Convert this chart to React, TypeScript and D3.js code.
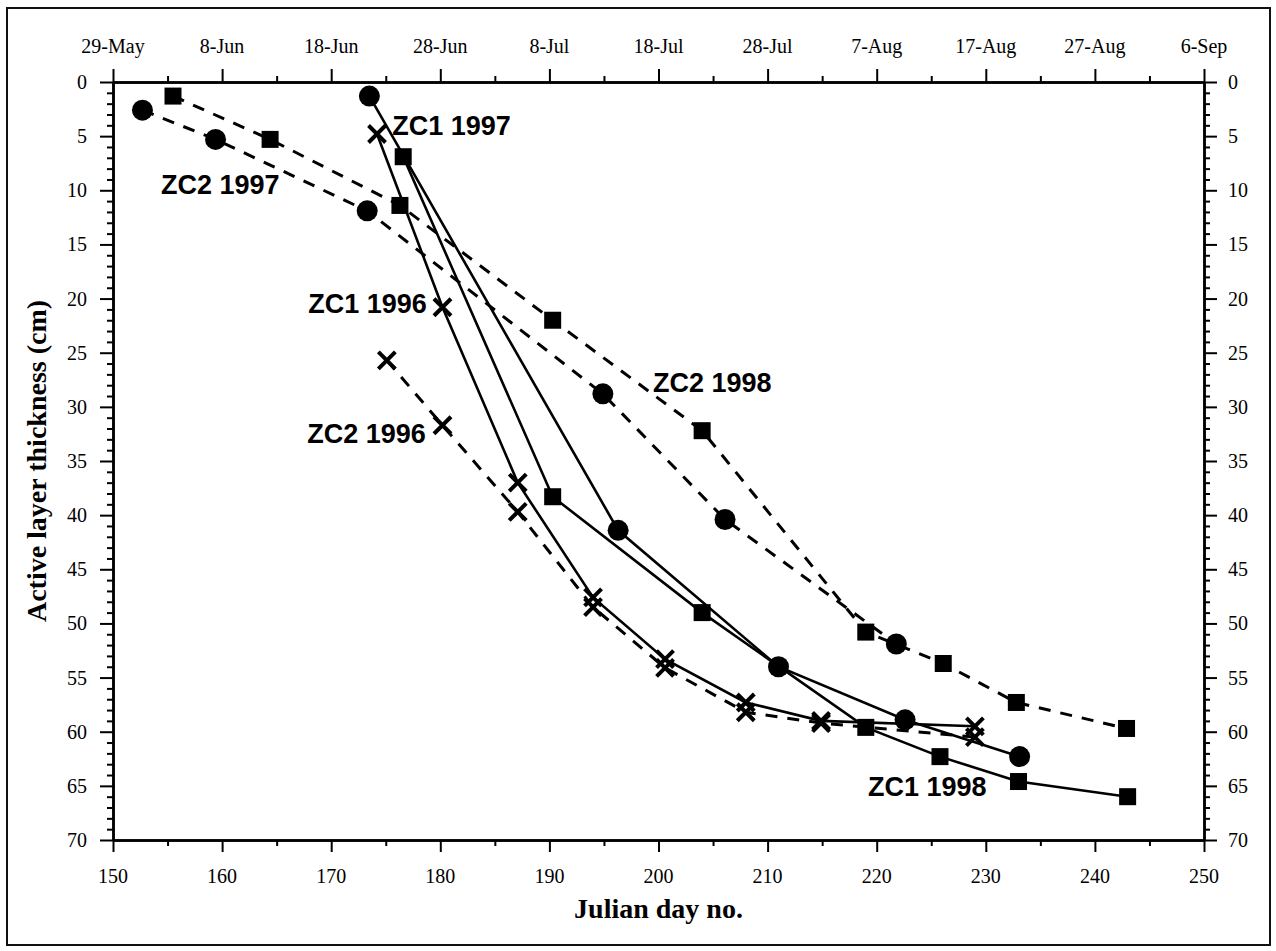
import React, { useEffect, useRef } from "react";
import * as d3 from "d3";

const W = 1276;
const H = 951;

// axis ticks
const xMajor = [150, 160, 170, 180, 190, 200, 210, 220, 230, 240, 250];
const xMinor = [155, 165, 175, 185, 195, 205, 215, 225, 235, 245];
const topLabels = ["29-May", "8-Jun", "18-Jun", "28-Jun", "8-Jul", "18-Jul", "28-Jul", "7-Aug", "17-Aug", "27-Aug", "6-Sep"];
const yMajor = [0, 5, 10, 15, 20, 25, 30, 35, 40, 45, 50, 55, 60, 65, 70];
const yMinor = d3.range(0, 71).filter((v) => v % 5 !== 0);

// series (Julian day, active layer thickness cm)
const zc1_1996_day = [174.2, 180.2, 187.1, 194.0, 200.6, 208.0, 214.9, 229.0];
const zc1_1996_val = [4.8, 20.8, 37.0, 47.6, 53.3, 57.3, 59.0, 59.5];

const zc2_1996_day = [175.1, 180.2, 187.1, 194.0, 200.6, 208.0, 214.9, 229.0];
const zc2_1996_val = [25.7, 31.7, 39.7, 48.5, 54.1, 58.2, 59.2, 60.5];

const zc1_1997_day = [173.5, 196.3, 211.0, 222.6, 233.1];
const zc1_1997_val = [1.3, 41.4, 54.0, 58.9, 62.3];

const zc2_1997_day = [152.7, 159.4, 173.3, 194.9, 206.1, 221.8];
const zc2_1997_val = [2.6, 5.3, 11.9, 28.8, 40.4, 51.9];

const zc1_1998_day = [176.6, 190.3, 204.0, 219.0, 225.8, 233.0, 243.0];
const zc1_1998_val = [6.9, 38.3, 49.0, 59.6, 62.3, 64.6, 66.0];

const zc2_1998_day = [155.5, 164.4, 176.3, 190.3, 204.0, 219.0, 226.1, 232.8, 242.9];
const zc2_1998_val = [1.3, 5.3, 11.4, 22.0, 32.2, 50.8, 53.7, 57.3, 59.7];

type Marker = "circle" | "square" | "x";
interface Series {
  name: string;
  days: number[];
  vals: number[];
  marker: Marker;
  dashed: boolean;
}

const series: Series[] = [
  { name: "ZC2 1997", days: zc2_1997_day, vals: zc2_1997_val, marker: "circle", dashed: true },
  { name: "ZC2 1998", days: zc2_1998_day, vals: zc2_1998_val, marker: "square", dashed: true },
  { name: "ZC2 1996", days: zc2_1996_day, vals: zc2_1996_val, marker: "x", dashed: true },
  { name: "ZC1 1996", days: zc1_1996_day, vals: zc1_1996_val, marker: "x", dashed: false },
  { name: "ZC1 1997", days: zc1_1997_day, vals: zc1_1997_val, marker: "circle", dashed: false },
  { name: "ZC1 1998", days: zc1_1998_day, vals: zc1_1998_val, marker: "square", dashed: false },
];

// series labels: text, anchor-start day, baseline value
const labelText = ["ZC1 1997", "ZC2 1997", "ZC1 1996", "ZC2 1996", "ZC2 1998", "ZC1 1998"];
const labelDay = [175.6, 154.4, 167.9, 167.8, 199.5, 219.2];
const labelVal = [4.9, 10.3, 21.3, 33.3, 28.6, 65.9];

export default function App() {
  const ref = useRef<SVGSVGElement>(null);

  useEffect(() => {
    const svg = d3.select(ref.current);
    svg.selectAll("*").remove();

    const x = d3.scaleLinear().domain([150, 250]).range([113, 1204]);
    const y = d3.scaleLinear().domain([0, 70]).range([82, 840]);
    const [x0, x1] = x.range();
    const [y0, y1] = y.range();

    // outer frame
    svg.append("rect")
      .attr("x", 7).attr("y", 8).attr("width", 1263).attr("height", 937)
      .attr("fill", "none").attr("stroke", "#111").attr("stroke-width", 2);

    const tickW = 2;
    const g = svg.append("g");

    const bottom = d3.axisBottom(x).tickValues(xMajor).tickSize(12).tickSizeOuter(0);
    const bottomMinor = d3.axisBottom(x).tickValues(xMinor).tickSize(6).tickSizeOuter(0);
    const top = d3.axisTop(x).tickValues(xMajor).tickSize(13).tickSizeOuter(0);
    const topMinor = d3.axisTop(x).tickValues(xMinor).tickSize(6).tickSizeOuter(0);
    const left = d3.axisLeft(y).tickValues(yMajor).tickSize(13).tickSizeOuter(0);
    const leftMinor = d3.axisLeft(y).tickValues(yMinor).tickSize(6).tickSizeOuter(0);
    const right = d3.axisRight(y).tickValues(yMajor).tickSize(13).tickSizeOuter(0);
    const rightMinor = d3.axisRight(y).tickValues(yMinor).tickSize(6).tickSizeOuter(0);

    const axes: [any, string][] = [
      [bottom, `translate(0,${y1})`], [bottomMinor, `translate(0,${y1})`],
      [top, `translate(0,${y0})`], [topMinor, `translate(0,${y0})`],
      [left, `translate(${x0},0)`], [leftMinor, `translate(${x0},0)`],
      [right, `translate(${x1},0)`], [rightMinor, `translate(${x1},0)`],
    ];
    axes.forEach(([ax, tr]) => {
      const a = g.append("g").attr("transform", tr).call(ax);
      a.selectAll("path.domain").attr("stroke", "#000").attr("stroke-width", 2.5);
      a.selectAll(".tick line").attr("stroke", "#000").attr("stroke-width", tickW);
      a.selectAll("text").remove();
    });

    const serif = "'Liberation Serif', 'Times New Roman', serif";
    const sans = "'Liberation Sans', Arial, sans-serif";

    // tick labels
    const tl = svg.append("g").attr("font-family", serif).attr("font-size", 20).attr("fill", "#000");
    xMajor.forEach((v, i) => {
      tl.append("text").attr("x", x(v)).attr("y", y1 + 36).attr("text-anchor", "middle")
        .attr("dominant-baseline", "central").text(String(v));
      tl.append("text").attr("x", x(v)).attr("y", y0 - 36).attr("text-anchor", "middle")
        .attr("dominant-baseline", "central").text(topLabels[i]);
    });
    yMajor.forEach((v) => {
      tl.append("text").attr("x", x0 - 26).attr("y", y(v)).attr("text-anchor", "end")
        .attr("dominant-baseline", "central").text(String(v));
      tl.append("text").attr("x", x1 + 24).attr("y", y(v)).attr("text-anchor", "start")
        .attr("dominant-baseline", "central").text(String(v));
    });

    // axis titles
    svg.append("text").attr("x", (x0 + x1) / 2).attr("y", 908).attr("text-anchor", "middle")
      .attr("dominant-baseline", "central")
      .attr("font-family", serif).attr("font-weight", "bold").attr("font-size", 28).text("Julian day no.");
    svg.append("text")
      .attr("transform", `translate(36,${(y0 + y1) / 2}) rotate(-90)`)
      .attr("text-anchor", "middle").attr("dominant-baseline", "central")
      .attr("font-family", serif).attr("font-weight", "bold").attr("font-size", 28)
      .text("Active layer thickness (cm)");

    // lines
    const line = d3.line<[number, number]>().x((d) => x(d[0])).y((d) => y(d[1]));
    const plot = svg.append("g");
    series.forEach((s) => {
      const pts: [number, number][] = s.days.map((d, i) => [d, s.vals[i]]);
      plot.append("path").attr("d", line(pts)!).attr("fill", "none").attr("stroke", "#000")
        .attr("stroke-width", s.dashed ? 3 : 2.6)
        .attr("stroke-dasharray", s.dashed ? "12,10" : null);
    });

    // markers
    series.forEach((s) => {
      s.days.forEach((d, i) => {
        const cx = x(d), cy = y(s.vals[i]);
        if (s.marker === "circle") {
          plot.append("circle").attr("cx", cx).attr("cy", cy).attr("r", 10.5).attr("fill", "#000");
        } else if (s.marker === "square") {
          plot.append("rect").attr("x", cx - 8.5).attr("y", cy - 8.5).attr("width", 17).attr("height", 17).attr("fill", "#000");
        } else {
          const r = 8.5;
          plot.append("path").attr("d", `M${cx - r},${cy - r}L${cx + r},${cy + r}M${cx - r},${cy + r}L${cx + r},${cy - r}`)
            .attr("stroke", "#000").attr("stroke-width", 4).attr("fill", "none");
        }
      });
    });

    // series labels
    const lg = svg.append("g").attr("font-family", sans).attr("font-weight", "bold").attr("font-size", 27).attr("fill", "#000");
    labelText.forEach((t, i) => {
      lg.append("text").attr("x", x(labelDay[i])).attr("y", y(labelVal[i])).text(t);
    });
  }, []);

  return (
    <svg
      ref={ref}
      width={W}
      height={H}
      style={{ position: "absolute", left: 0, top: 0, background: "#fff" }}
    />
  );
}
